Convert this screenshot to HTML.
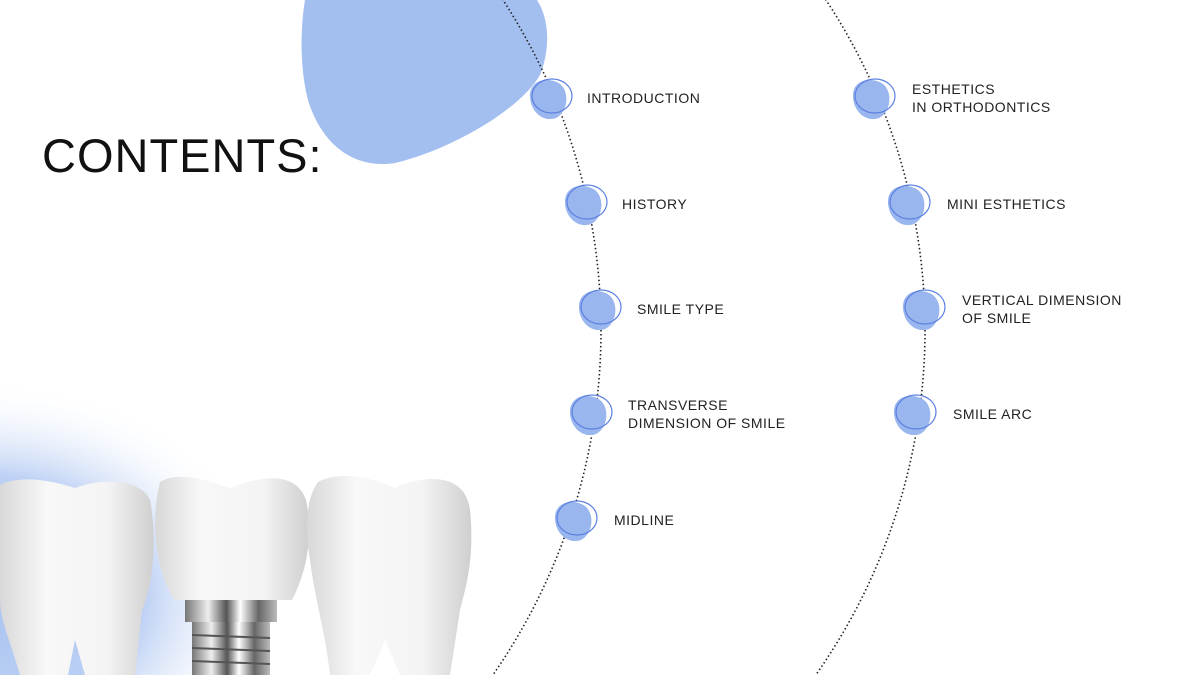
<!DOCTYPE html>
<html style="overflow:hidden"><head><meta charset="utf-8"><style>
html,body{margin:0;width:1200px;height:675px;overflow:hidden}
body{background:#fff;position:relative;font-family:"Liberation Sans",sans-serif}
.t{position:absolute;font-size:14px;color:#222;letter-spacing:0.5px;line-height:18px}
</style></head><body>
<svg width="1200" height="675" style="position:absolute;left:0;top:0;display:block">
<defs>
<radialGradient id="glow" cx="0.3" cy="0.6" r="0.6">
<stop offset="0" stop-color="#a9c3f2"/><stop offset="0.55" stop-color="#bcd0f4"/><stop offset="1" stop-color="#fff" stop-opacity="0"/>
</radialGradient>
<linearGradient id="tooth" x1="0" y1="0" x2="1" y2="0">
<stop offset="0" stop-color="#d8d8d8"/><stop offset="0.3" stop-color="#f8f8f8"/><stop offset="0.7" stop-color="#f4f4f4"/><stop offset="1" stop-color="#cfcfcf"/>
</linearGradient>
<linearGradient id="metal" x1="0" y1="0" x2="1" y2="0">
<stop offset="0" stop-color="#777"/><stop offset="0.25" stop-color="#eee"/><stop offset="0.45" stop-color="#555"/><stop offset="0.6" stop-color="#fff"/><stop offset="0.8" stop-color="#666"/><stop offset="1" stop-color="#bbb"/>
</linearGradient>
<g id="b"><path d="M-20,-4 C-19,-18 -2,-22 10,-14 C20,-6 18,14 6,20 C-8,25 -21,12 -20,-4Z" fill="#9ab6ee"/><ellipse cx="2" cy="-2" rx="20" ry="17" fill="none" stroke="#5b7fe0" stroke-width="1.2"/></g>
</defs>
<ellipse cx="80" cy="560" rx="240" ry="180" fill="url(#glow)"/>
<path d="M305,0 L537,0 C550,20 550,50 540,75 C520,110 450,150 395,163 C350,170 320,140 308,100 C300,70 300,30 305,0 Z" fill="#a3bff0"/>
<circle cx="-3.6" cy="330" r="604.6" fill="none" stroke="#222" stroke-width="1.6" stroke-dasharray="1.5 2.5"/>
<circle cx="325.5" cy="330" r="599.5" fill="none" stroke="#222" stroke-width="1.6" stroke-dasharray="1.5 2.5"/>
<use href="#b" x="550" y="98"/><use href="#b" x="585" y="204"/><use href="#b" x="599" y="309"/><use href="#b" x="590" y="414"/><use href="#b" x="575" y="520"/>
<use href="#b" x="873" y="98"/><use href="#b" x="908" y="204"/><use href="#b" x="923" y="309"/><use href="#b" x="914" y="414"/>
<!-- teeth -->
<path d="M0,485 C20,475 50,480 75,488 C100,478 140,478 150,500 C158,540 152,590 142,610 L135,675 L85,675 L75,640 L68,675 L20,675 C10,640 0,620 0,600 Z" fill="url(#tooth)"/>
<path d="M160,482 C180,470 210,482 230,488 C255,478 295,468 306,500 C314,540 305,575 292,600 L175,600 C160,580 148,530 160,482 Z" fill="url(#tooth)"/>
<rect x="185" y="600" width="92" height="22" fill="url(#metal)"/>
<rect x="192" y="622" width="78" height="53" fill="url(#metal)"/>
<g stroke="#555" stroke-width="2"><line x1="192" y1="635" x2="270" y2="638"/><line x1="192" y1="648" x2="270" y2="651"/><line x1="192" y1="661" x2="270" y2="664"/></g>
<path d="M318,482 C340,470 375,478 395,488 C420,476 465,470 470,510 C475,560 465,590 460,610 L450,675 L400,675 L385,640 L370,675 L330,675 C325,630 315,600 310,560 C305,530 305,500 318,482 Z" fill="url(#tooth)"/>
</svg>
<div style="position:absolute;left:42px;top:128px;font-size:47px;color:#111;letter-spacing:1px;line-height:56px">CONTENTS:</div>
<div class="t" style="left:587px;top:89px">INTRODUCTION</div>
<div class="t" style="left:622px;top:195px">HISTORY</div>
<div class="t" style="left:637px;top:300px">SMILE TYPE</div>
<div class="t" style="left:628px;top:396px">TRANSVERSE<br>DIMENSION OF SMILE</div>
<div class="t" style="left:614px;top:511px">MIDLINE</div>
<div class="t" style="left:912px;top:80px">ESTHETICS<br>IN ORTHODONTICS</div>
<div class="t" style="left:947px;top:195px">MINI ESTHETICS</div>
<div class="t" style="left:962px;top:291px">VERTICAL DIMENSION<br>OF SMILE</div>
<div class="t" style="left:953px;top:405px">SMILE ARC</div>
</body></html>
